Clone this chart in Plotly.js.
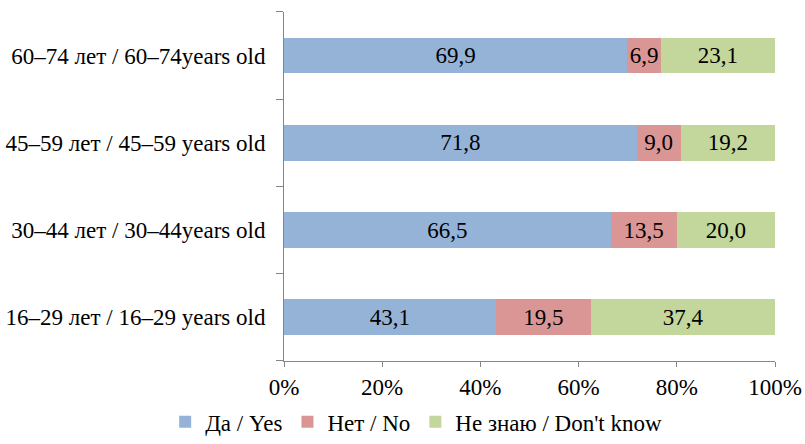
<!DOCTYPE html>
<html>
<head>
<meta charset="utf-8">
<script src="https://cdn.plot.ly/plotly-3.0.1.min.js"></script>
<style>html,body{margin:0;padding:0;background:#fff;}#chart{width:805px;height:444px;}</style>
</head>
<body>
<div id="chart"></div>
<script>
// Categories listed bottom to top
var categories = [
  "16–29 лет / 16–29 years old",
  "30–44 лет / 30–44years old",
  "45–59 лет / 45–59 years old",
  "60–74 лет / 60–74years old"
];
var seriesNames = ["Да / Yes", "Нет / No", "Не знаю / Don't know"];
var yesValues = [43.1, 66.5, 71.8, 69.9];
var noValues = [19.5, 13.5, 9.0, 6.9];
var dkValues = [37.4, 20.0, 19.2, 23.1];
var xTickVals = [0, 20, 40, 60, 80, 100];
var xTickText = ["0%", "20%", "40%", "60%", "80%", "100%"];

var colors = ["#95B3D7", "#D99694", "#C3D69B"];
var fontFam = "Liberation Serif, Times New Roman, serif";
var fs = 23;
var allValues = [yesValues, noValues, dkValues];

var traces = allValues.map(function (vals, i) {
  return {
    type: "bar",
    orientation: "h",
    name: seriesNames[i],
    y: categories,
    x: vals,
    marker: { color: colors[i], line: { width: 0 } },
    texttemplate: "%{x:.1f}",
    textposition: "inside",
    insidetextanchor: "middle",
    textangle: 0,
    constraintext: "none",
    textfont: { family: fontFam, size: fs, color: "#000" },
    hoverinfo: "skip"
  };
});

var layout = {
  width: 805,
  height: 444,
  barmode: "stack",
  bargap: 0.59,
  separators: ", ",
  paper_bgcolor: "#fff",
  plot_bgcolor: "#fff",
  margin: { l: 284, r: 30, t: 0, b: 83 },
  font: { family: fontFam, size: fs, color: "#000" },
  showlegend: true,
  legend: {
    orientation: "h",
    traceorder: "normal",
    x: -0.242, xanchor: "left",
    y: -0.228, yanchor: "bottom",
    bgcolor: "rgba(0,0,0,0)",
    font: { family: fontFam, size: fs, color: "#000" },
    itemwidth: 30
  },
  xaxis: {
    range: [0, 100],
    tickmode: "array",
    tickvals: xTickVals,
    ticktext: xTickText,
    showgrid: false,
    zeroline: false,
    showline: true,
    linecolor: "#868686",
    linewidth: 1,
    ticks: "outside",
    ticklen: 5,
    tickcolor: "#868686",
    tickfont: { family: fontFam, size: fs, color: "#000" },
    automargin: false,
    fixedrange: true
  },
  yaxis: {
    type: "category",
    domain: [0, 0.9668],
    showgrid: false,
    zeroline: false,
    showline: true,
    linecolor: "#868686",
    linewidth: 1,
    ticks: "outside",
    tickson: "boundaries",
    ticklen: 7,
    tickcolor: "#868686",
    ticklabelstandoff: 13,
    tickfont: { family: fontFam, size: fs, color: "#000" },
    automargin: false,
    fixedrange: true
  }
};

Plotly.newPlot("chart", traces, layout, { displayModeBar: false, staticPlot: true });
</script>
</body>
</html>
